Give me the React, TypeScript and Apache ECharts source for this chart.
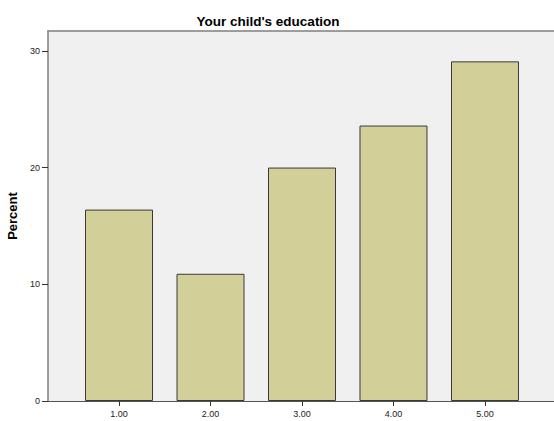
import React, { useEffect, useRef } from "react";
import * as echarts from "echarts";

const categories = [1, 2, 3, 4, 5];
const percentValues = [16.4, 10.9, 20.0, 23.6, 29.1];
const yTicks = [0, 10, 20, 30];
const titleText = "Your child's education";
const yAxisTitle = "Percent";

export default function App() {
  const ref = useRef<HTMLDivElement>(null);
  useEffect(() => {
    if (!ref.current) return;
    const chart = echarts.init(ref.current, null, { renderer: "svg" });
    const font = "'Liberation Sans', Arial, sans-serif";
    const xMin = 0.224;
    const xMax = 5.929;
    chart.setOption({
      animation: false,
      backgroundColor: "#ffffff",
      title: {
        text: titleText,
        left: 263,
        textAlign: "center",
        top: 9,
        textStyle: { fontFamily: font, fontSize: 13.5, fontWeight: "bold", color: "#000" },
      },
      grid: {
        left: 48,
        right: 0,
        top: 31,
        bottom: 20,
        outerBoundsMode: "none",
        containLabel: false,
        show: true,
        backgroundColor: "#f0f0f0",
        borderWidth: 0,
      },
      xAxis: [
        {
          type: "value",
          min: xMin,
          max: xMax,
          axisLine: { show: true, lineStyle: { color: "#555", width: 1 } },
          axisTick: { show: true, customValues: categories, length: 5, lineStyle: { color: "#333" } },
          axisLabel: {
            customValues: categories,
            formatter: (v: number) => v.toFixed(2),
            fontFamily: font,
            fontSize: 9,
            color: "#222",
            margin: 8,
          },
          splitLine: { show: false },
        },
        {
          type: "value",
          position: "top",
          min: xMin,
          max: xMax,
          axisLine: { show: true, lineStyle: { color: "#7f7f7f", width: 1.5 } },
          axisTick: { show: false },
          axisLabel: { show: false },
          splitLine: { show: false },
        },
      ],
      yAxis: {
        type: "value",
        min: 0,
        max: 31.7,
        name: yAxisTitle,
        nameLocation: "middle",
        nameRotate: 90,
        nameGap: 27,
        nameTextStyle: { fontFamily: font, fontSize: 13, fontWeight: "bold", color: "#000" },
        axisLine: { show: true, lineStyle: { color: "#7f7f7f", width: 1.5 } },
        axisTick: { show: true, customValues: yTicks, length: 6, lineStyle: { color: "#333" } },
        axisLabel: {
          customValues: yTicks,
          fontFamily: font,
          fontSize: 9,
          color: "#222",
          margin: 8,
        },
        splitLine: { show: false },
      },
      series: [
        {
          type: "bar",
          xAxisIndex: 0,
          data: categories.map((c, i) => [c, percentValues[i]]),
          barWidth: 68,
          itemStyle: { color: "#d3cf98", borderColor: "#3a3a3a", borderWidth: 1 },
        },
      ],
    });
    return () => chart.dispose();
  }, []);
  return <div ref={ref} style={{ position: "fixed", left: 0, top: 0, width: 570, height: 421 }} />;
}
